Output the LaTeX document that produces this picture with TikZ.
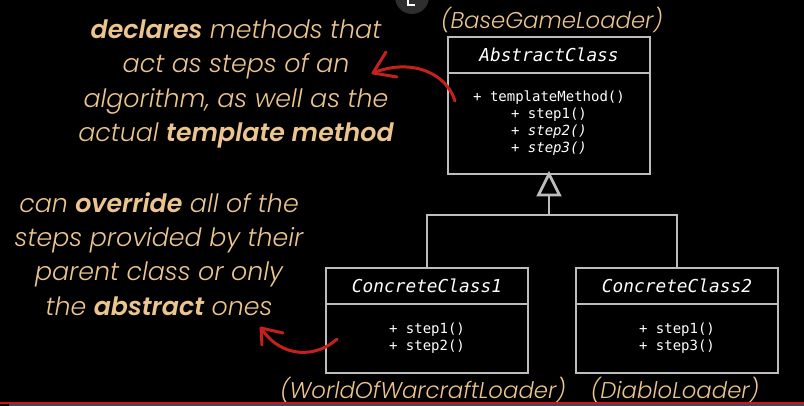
\documentclass[tikz,border=0pt]{standalone}
\usepackage{fontspec}
\usetikzlibrary{calc}
\setmonofont{DejaVu Sans Mono}
\newfontfamily\lbl{Poppins Light}[ItalicFont={Poppins Light Italic},BoldItalicFont={Poppins SemiBold Italic},BoldFont={Poppins SemiBold}]
\definecolor{tan}{HTML}{EBC48E}
\definecolor{umlgray}{HTML}{BDBDBD}
\definecolor{brush}{HTML}{C4201C}
\definecolor{barred}{HTML}{D01515}
\definecolor{barblue}{HTML}{3A4A66}
\tikzset{
  umlbox/.style={draw=umlgray, line width=2.8pt, inner sep=0pt, outer sep=0pt, text=white},
  umlline/.style={draw=umlgray, line width=2.8pt},
  head/.style={umlbox, minimum width=202pt, minimum height=36pt, font=\ttfamily\itshape\fontsize{17.8}{20}\selectfont},
  body/.style={umlbox, font=\ttfamily\fontsize{14}{17}\selectfont, align=center},
  note/.style={text=tan, align=center, font=\lbl\itshape\fontsize{25.3}{34.3}\selectfont},
  loader/.style={text=tan, font=\lbl\itshape\fontsize{22.8}{28}\selectfont},
  redarrow/.style={draw=brush, line width=3pt, line cap=round, line join=round}
}
\begin{document}
\begin{tikzpicture}[x=1pt,y=-1pt]
\fill[black] (0,0) rectangle (804,406);
\useasboundingbox (0,0) rectangle (804,406);
% UI overlay icon
\fill[black!82] (412,-3) circle (17);
\draw[white, line width=2pt] (408,0) -- (408,5) -- (415,5);
% abstract class
\node[head, anchor=north] (abs) at (549,37) {AbstractClass};
\node[body, minimum width=202pt, minimum height=101pt, anchor=north] (absb) at (abs.south)
  {+ templateMethod()\\+ step1()\\+ \textit{step2()}\\+ \textit{step3()}};
% concrete classes
\node[head, anchor=north] (c1) at (427,268) {ConcreteClass1};
\node[body, minimum width=202pt, minimum height=69pt, anchor=north] (c1b) at (c1.south)
  {+ step1()\\+ step2()};
\node[head, anchor=north] (c2) at (677,268) {ConcreteClass2};
\node[body, minimum width=202pt, minimum height=69pt, anchor=north] (c2b) at (c2.south)
  {+ step1()\\+ step3()};
% inheritance
\coordinate (tip) at (absb.south);
\coordinate (tbase) at ($(absb.south)+(0,21)$);
\coordinate (junc) at ($(absb.south)+(0,41)$);
\draw[umlline, line join=miter] (tip) -- ($(tip)+(10.5,21)$) -- ($(tip)+(-10.5,21)$) -- cycle;
\draw[umlline] (tbase) -- (junc);
\draw[umlline] (c1.north) |- (junc) -| (c2.north);
% notes
\node[note] (decl) at (236,84) {\textbf{declares} methods that\\act as steps of an\\algorithm, as well as the\\actual \textbf{template method}};
\node[note] (over) at (159,254) {can \textbf{override} all of the\\steps provided by their\\parent class or only\\the \textbf{abstract} ones};
\node[loader] (bgl) at (552,20) {(BaseGameLoader)};
\node[loader] (wow) at (423,390) {(WorldOfWarcraftLoader)};
\node[loader] (dia) at (675,390) {(DiabloLoader)};
% red arrows
\coordinate (a1s) at (455,101);
\coordinate (a1t) at (373,73);
\draw[redarrow] (a1s) .. controls (446,72) and (410,58) .. (a1t);
\draw[redarrow] (386,52) -- (a1t) -- (397,77);
\coordinate (a2s) at (337,339);
\coordinate (a2t) at (261,328);
\draw[redarrow] (a2s) .. controls (318,357) and (282,360) .. (a2t);
\draw[redarrow] (283,333) -- (a2t) -- (262,345);
% progress bar
\fill[barred] (0,401.5) rectangle (804,404);
\fill[barblue] (9,404) rectangle (804,406);
\end{tikzpicture}
\end{document}
